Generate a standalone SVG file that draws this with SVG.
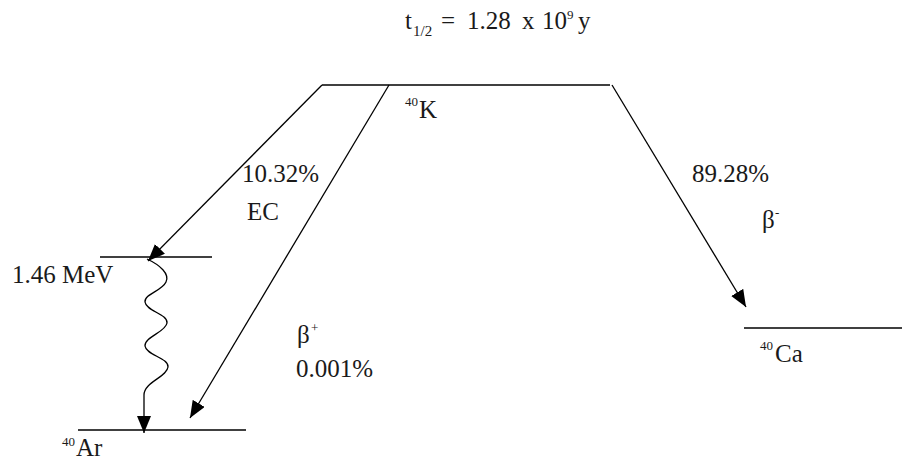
<svg xmlns="http://www.w3.org/2000/svg" width="902" height="461" viewBox="0 0 902 461">
<style>
  text { font-family: "Liberation Serif", "Times New Roman", serif; font-size: 25px; fill: #1a1a1a; }
  .sup { font-size: 13px; }
  .sub { font-size: 15px; }
  .lvl { stroke: #000; stroke-width: 1.4; fill: none; }
  .arr { stroke: #000; stroke-width: 1.3; fill: none; marker-end: url(#ah); }
</style>
<defs>
  <marker id="ah" viewBox="0 0 17 14" refX="17" refY="7" markerWidth="17" markerHeight="14" markerUnits="userSpaceOnUse" orient="auto">
    <path d="M0,0 L17,7 L0,14 z" fill="#000"/>
  </marker>
</defs>
<rect width="902" height="461" fill="#fff"/>

<g id="title">
  <text x="405" y="29">t</text>
  <text class="sub" x="413" y="36">1/2</text>
  <text x="441" y="29">=</text>
  <text x="467" y="29">1.28</text>
  <text x="522" y="29">x</text>
  <text x="542" y="29">10</text>
  <text class="sup" x="567" y="19">9</text>
  <text x="578" y="29">y</text>
</g>

<g id="K40">
  <line class="lvl" x1="322" y1="85" x2="610" y2="85"/>
  <text class="sup" x="405" y="106">40</text>
  <text x="419" y="118">K</text>
</g>

<g id="E146">
  <line class="lvl" x1="100" y1="257" x2="212" y2="257"/>
  <text x="12" y="283">1.46 MeV</text>
</g>

<g id="Ar40">
  <line class="lvl" x1="78" y1="430" x2="246" y2="430"/>
  <text class="sup" x="62" y="446">40</text>
  <text x="76" y="456">Ar</text>
</g>

<g id="Ca40">
  <line class="lvl" x1="744" y1="328" x2="902" y2="328"/>
  <text class="sup" x="760" y="350">40</text>
  <text x="775" y="362">Ca</text>
</g>

<g id="connectors">
  <line class="arr" x1="322" y1="85" x2="148" y2="261"/>
  <line class="arr" x1="389" y1="85" x2="190" y2="418"/>
  <line class="arr" x1="612" y1="85" x2="746" y2="307"/>
  <path class="arr" d="M147,259 C160,265 170,274 166,282 C162,291 144,294 145,302 C146,311 168,314 167,323 C166,332 144,337 145,346 C146,355 169,358 168,367 C167,377 144,382 144,395 L144,433"/>
</g>

<g id="labels">
  <text x="242" y="182">10.32%</text>
  <text x="247" y="220">EC</text>
  <text x="692" y="182">89.28%</text>
  <text x="762" y="228">β</text>
  <text class="sup" x="775" y="217">-</text>
  <text x="297" y="343">β</text>
  <text class="sup" x="311" y="332">+</text>
  <text x="296" y="377">0.001%</text>
</g>
</svg>
